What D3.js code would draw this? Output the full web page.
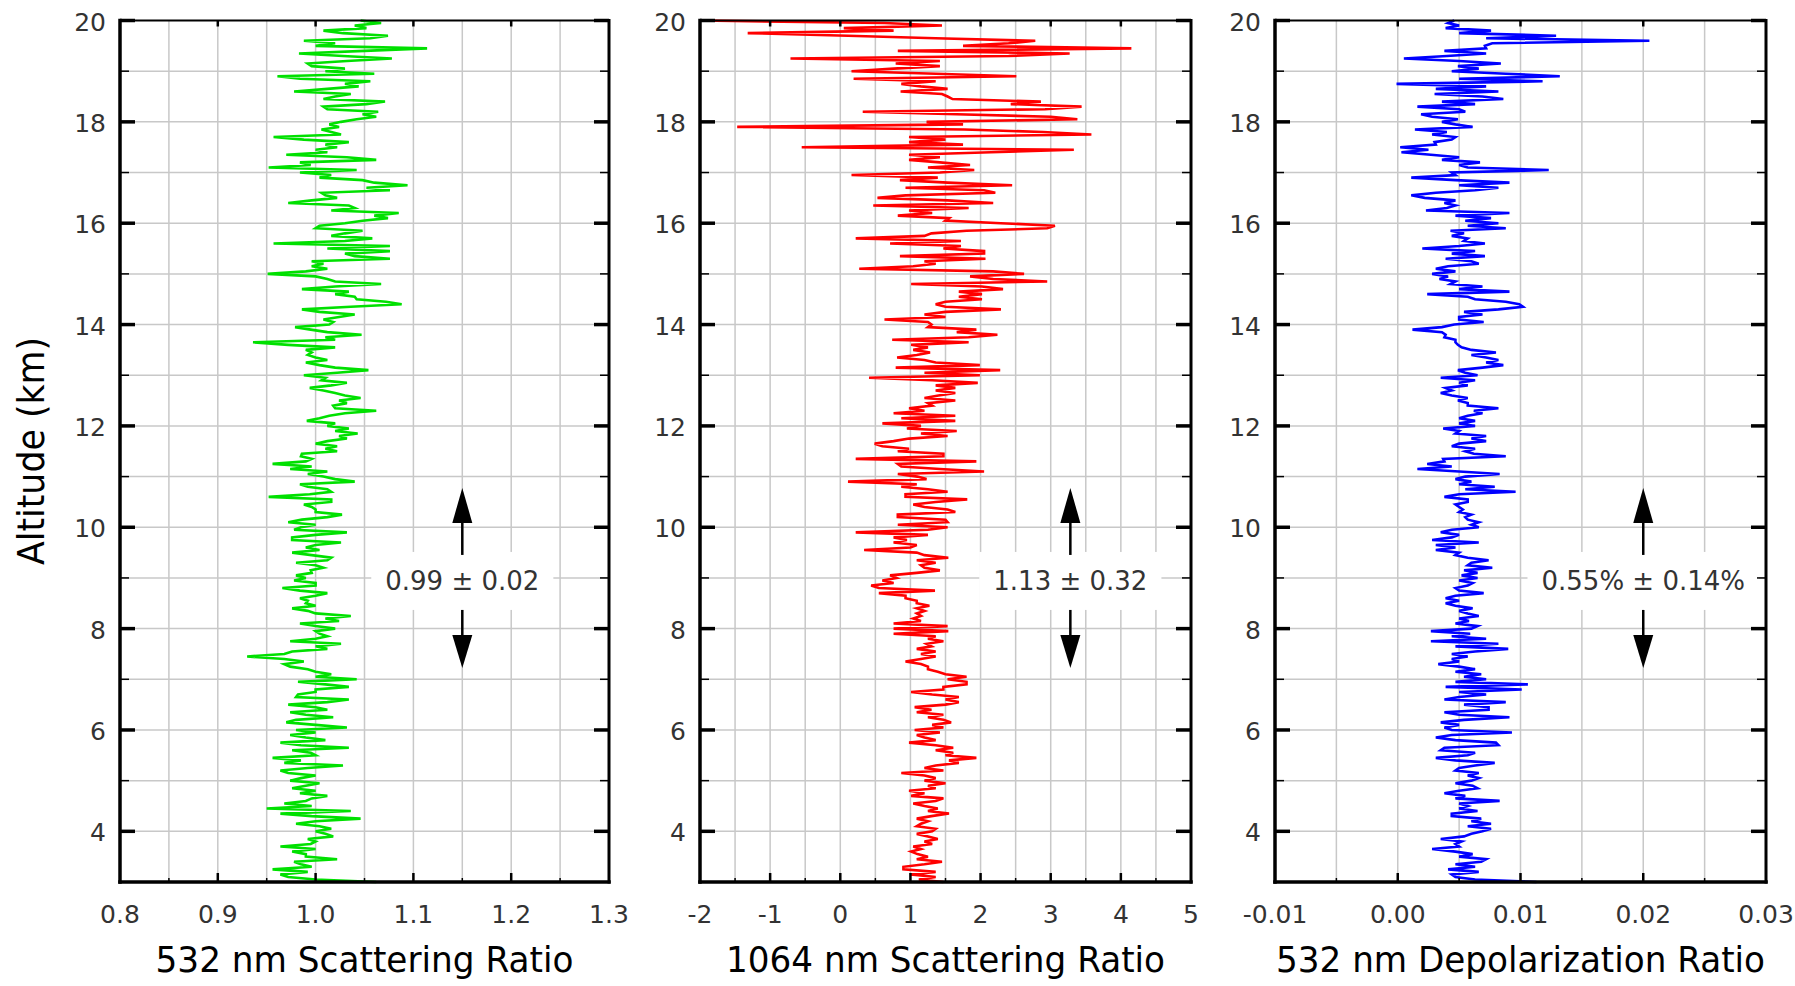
<!DOCTYPE html>
<html>
<head>
<meta charset="utf-8">
<script src="https://cdn.jsdelivr.net/npm/d3@7"></script>
<style>
  html, body { margin: 0; padding: 0; background: #fff; }
  svg { display: block; }
  text { font-family: "DejaVu Sans", Verdana, sans-serif; }
</style>
</head>
<body>
<svg id="chart" width="1795" height="986"></svg>
<script>
// Lidar profiles sampled every 50 m, listed from 20 km down to 3 km.
const altitudeTop = 20;
const altitudeStep = 0.05;

// 532 nm scattering ratio
const sr532 = [
  1.046, 1.067, 1.040, 1.052, 1.008, 1.028, 1.074, 1.056, 0.988, 1.020,
  1.000, 1.114, 1.050, 0.983, 1.028, 1.078, 1.032, 0.992, 0.996, 1.030,
  1.010, 1.060, 0.961, 0.984, 1.056, 1.030, 1.044, 1.012, 0.978, 1.036,
  1.020, 1.008, 1.071, 1.052, 1.008, 1.012, 1.064, 1.048, 1.062, 1.042,
  1.026, 1.014, 1.024, 1.006, 1.016, 1.026, 0.957, 0.988, 1.034, 1.010,
  1.022, 1.000, 1.012, 0.970, 1.032, 1.062, 0.984, 0.995, 0.952, 1.042,
  0.984, 1.016, 1.004, 1.048, 1.060, 1.094, 1.052, 1.076, 1.006, 1.010,
  1.022, 0.996, 0.972, 1.034, 1.040, 1.016, 1.085, 1.060, 1.074, 1.048,
  1.030, 1.004, 1.000, 1.048, 1.030, 1.016, 1.058, 1.030, 0.957, 1.076,
  1.012, 1.076, 1.030, 1.040, 1.076, 0.996, 1.008, 0.996, 1.012, 0.990,
  0.951, 1.000, 1.012, 1.020, 1.067, 1.020, 0.986, 1.034, 1.020, 1.040,
  1.042, 1.072, 1.088, 1.036, 0.986, 1.004, 1.040, 1.024, 1.008, 1.018,
  1.014, 0.979, 0.995, 1.012, 1.047, 1.010, 1.020, 0.936, 0.972, 1.020,
  0.990, 0.996, 0.992, 1.000, 1.012, 0.990, 1.004, 1.020, 1.054, 1.022,
  0.988, 1.010, 1.006, 1.032, 1.016, 0.994, 1.008, 1.020, 1.030, 1.046,
  1.024, 1.032, 1.018, 1.020, 1.062, 1.030, 1.014, 1.004, 0.991, 1.020,
  1.012, 1.034, 1.020, 1.043, 1.024, 1.032, 1.012, 1.000, 1.022, 1.010,
  1.022, 0.986, 0.985, 0.996, 0.990, 0.956, 0.996, 0.974, 1.012, 0.992,
  1.008, 1.020, 1.040, 0.984, 0.992, 1.012, 1.016, 0.994, 0.952, 1.016,
  1.016, 0.988, 0.996, 1.000, 1.000, 1.027, 1.012, 0.986, 0.972, 1.000,
  0.985, 0.978, 1.032, 1.000, 0.976, 0.976, 1.026, 1.000, 0.990, 1.004,
  0.976, 0.996, 1.016, 1.012, 0.980, 1.000, 1.008, 0.995, 0.996, 0.980,
  0.990, 0.978, 1.000, 1.000, 0.966, 0.984, 1.012, 1.000, 0.984, 0.992,
  0.990, 1.000, 0.976, 0.992, 1.000, 1.036, 1.010, 1.024, 0.984, 1.000,
  1.020, 1.000, 1.004, 1.012, 1.000, 0.974, 1.026, 1.000, 1.012, 0.976,
  0.968, 0.930, 0.968, 0.988, 0.968, 0.974, 0.992, 1.000, 1.016, 1.000,
  1.042, 0.982, 1.010, 1.034, 1.000, 1.000, 0.982, 0.980, 1.034, 1.012,
  0.972, 1.000, 1.012, 0.974, 0.990, 1.018, 0.980, 0.970, 1.000, 1.032,
  0.980, 1.000, 0.974, 0.990, 1.010, 0.964, 0.985, 1.034, 0.976, 0.995,
  1.000, 0.956, 0.985, 0.968, 1.028, 0.992, 0.964, 0.972, 1.000, 0.985,
  0.974, 1.004, 0.990, 0.976, 1.000, 0.984, 1.012, 0.996, 0.990, 0.968,
  0.996, 0.950, 1.036, 0.964, 0.996, 1.046, 1.000, 0.980, 1.004, 1.016,
  1.000, 1.010, 1.018, 0.992, 1.000, 0.995, 0.964, 1.000, 0.976, 0.990,
  0.990, 1.022, 0.978, 0.985, 0.996, 0.956, 0.992, 0.964, 0.972, 1.000,
  1.062
];

// 1064 nm scattering ratio
const sr1064 = [
  -2.00, 0.63, 1.45, 0.05, 0.76, -1.32, 0.11, 1.36, 2.78, 2.40,
  1.75, 4.15, 0.82, 3.27, 2.40, -0.71, 1.42, 0.79, 1.42, 0.76,
  0.16, 1.36, 2.51, 0.19, 1.36, 0.87, 1.15, 1.53, 0.86, 1.45,
  1.53, 1.60, 2.86, 2.43, 3.44, 2.92, 0.32, 1.66, 3.00, 3.38,
  1.23, 1.75, -1.47, 1.77, 2.89, 3.58, 0.98, 1.50, 0.98, 1.75,
  -0.55, 3.33, 2.15, 0.98, 1.42, 0.98, 1.42, 1.85, 1.25, 1.91,
  1.42, 0.16, 1.39, 0.85, 1.53, 2.45, 0.93, 2.05, 2.21, 0.93,
  0.53, 1.53, 2.18, 0.47, 1.83, 0.98, 1.31, 0.82, 1.55, 1.50,
  2.29, 3.06, 2.95, 1.80, 1.30, 1.20, 0.22, 1.72, 0.71, 1.72,
  1.47, 2.05, 2.05, 0.85, 2.07, 1.20, 1.36, 1.04, 0.27, 2.18,
  2.62, 1.85, 2.18, 2.95, 1.01, 2.02, 2.32, 1.69, 2.02, 1.69,
  2.02, 1.50, 1.36, 1.50, 2.29, 1.50, 1.20, 1.50, 0.63, 1.25,
  1.30, 1.25, 1.94, 1.66, 2.24, 1.83, 0.74, 1.83, 1.01, 1.25,
  1.04, 1.28, 1.09, 0.81, 1.20, 1.36, 1.99, 0.79, 2.28, 1.20,
  1.99, 0.41, 1.31, 1.96, 1.36, 1.64, 1.36, 1.64, 1.40, 1.20,
  1.64, 1.25, 1.31, 0.98, 1.20, 0.76, 1.64, 0.87, 1.64, 0.60,
  1.15, 0.95, 1.66, 1.15, 1.53, 0.98, 0.76, 0.49, 0.60, 0.98,
  0.82, 1.47, 1.47, 0.22, 1.94, 0.82, 0.87, 1.42, 2.05, 0.82,
  1.10, 1.23, 0.11, 1.09, 0.87, 1.25, 1.53, 0.93, 0.93, 1.81,
  1.36, 1.04, 1.20, 1.53, 1.64, 0.82, 0.82, 1.50, 1.53, 0.82,
  1.53, 1.25, 0.22, 1.25, 0.76, 0.95, 0.76, 1.09, 1.00, 0.34,
  1.09, 1.20, 1.54, 1.09, 1.36, 1.15, 1.20, 1.42, 1.09, 0.71,
  0.80, 0.60, 0.76, 0.44, 0.55, 1.35, 0.55, 0.93, 0.93, 1.09,
  1.09, 1.27, 1.09, 1.20, 1.09, 1.15, 1.04, 1.15, 0.76, 1.53,
  0.76, 1.54, 0.76, 1.36, 1.25, 1.47, 1.23, 1.30, 1.09, 1.36,
  1.15, 1.36, 1.15, 0.93, 1.15, 1.25, 1.25, 1.39, 1.50, 1.80,
  1.53, 1.80, 1.80, 1.47, 1.47, 1.01, 1.31, 1.69, 1.50, 1.69,
  1.50, 1.06, 1.30, 1.09, 1.47, 1.25, 1.47, 1.58, 1.31, 1.47,
  1.06, 1.42, 1.09, 1.20, 1.36, 0.98, 1.36, 1.61, 1.36, 1.61,
  1.50, 1.94, 1.55, 1.69, 1.36, 1.20, 1.47, 0.87, 1.20, 1.36,
  1.20, 1.50, 1.25, 1.36, 0.98, 1.20, 1.01, 1.47, 1.36, 1.04,
  1.20, 1.39, 1.25, 1.55, 1.30, 1.09, 1.25, 1.15, 1.09, 1.36,
  1.31, 1.09, 1.25, 1.39, 1.20, 1.31, 1.04, 1.15, 1.01, 1.10,
  1.25, 1.09, 1.45, 1.20, 0.90, 0.90, 1.36, 1.00, 1.36, 1.12,
  1.47
];

// 532 nm depolarization ratio
const dr532 = [
  0.0046, 0.0041, 0.0050, 0.0039, 0.0076, 0.0050, 0.0129, 0.0072, 0.0205, 0.0077,
  0.0071, 0.0072, 0.0038, 0.0072, 0.0040, 0.0005, 0.0050, 0.0084, 0.0049, 0.0066,
  0.0044, 0.0088, 0.0132, 0.0050, 0.0118, -0.0001, 0.0072, 0.0031, 0.0082, 0.0030,
  0.0069, 0.0086, 0.0036, 0.0063, 0.0016, 0.0050, 0.0055, 0.0019, 0.0028, 0.0049,
  0.0036, 0.0047, 0.0061, 0.0014, 0.0040, 0.0028, 0.0047, 0.0044, 0.0030, 0.0031,
  0.0002, 0.0025, 0.0003, 0.0027, 0.0050, 0.0036, 0.0067, 0.0050, 0.0057, 0.0123,
  0.0044, 0.0047, 0.0011, 0.0047, 0.0091, 0.0050, 0.0082, 0.0063, 0.0031, 0.0011,
  0.0022, 0.0047, 0.0038, 0.0047, 0.0040, 0.0023, 0.0091, 0.0047, 0.0076, 0.0055,
  0.0082, 0.0057, 0.0088, 0.0043, 0.0054, 0.0044, 0.0057, 0.0054, 0.0071, 0.0050,
  0.0020, 0.0063, 0.0044, 0.0071, 0.0039, 0.0060, 0.0066, 0.0041, 0.0031, 0.0047,
  0.0028, 0.0041, 0.0034, 0.0047, 0.0043, 0.0069, 0.0050, 0.0091, 0.0024, 0.0057,
  0.0063, 0.0088, 0.0099, 0.0102, 0.0082, 0.0054, 0.0069, 0.0050, 0.0050, 0.0070,
  0.0046, 0.0036, 0.0012, 0.0036, 0.0039, 0.0038, 0.0047, 0.0047, 0.0049, 0.0052,
  0.0060, 0.0080, 0.0060, 0.0072, 0.0082, 0.0072, 0.0086, 0.0069, 0.0049, 0.0055,
  0.0065, 0.0035, 0.0063, 0.0050, 0.0057, 0.0039, 0.0044, 0.0035, 0.0044, 0.0057,
  0.0049, 0.0057, 0.0057, 0.0082, 0.0062, 0.0069, 0.0057, 0.0050, 0.0063, 0.0050,
  0.0063, 0.0037, 0.0050, 0.0047, 0.0072, 0.0060, 0.0072, 0.0050, 0.0044, 0.0063,
  0.0055, 0.0062, 0.0088, 0.0037, 0.0038, 0.0024, 0.0044, 0.0016, 0.0050, 0.0083,
  0.0055, 0.0047, 0.0060, 0.0050, 0.0079, 0.0055, 0.0096, 0.0050, 0.0038, 0.0057,
  0.0057, 0.0047, 0.0050, 0.0053, 0.0050, 0.0060, 0.0055, 0.0057, 0.0066, 0.0060,
  0.0066, 0.0044, 0.0035, 0.0050, 0.0044, 0.0028, 0.0066, 0.0031, 0.0047, 0.0031,
  0.0050, 0.0047, 0.0057, 0.0074, 0.0060, 0.0057, 0.0077, 0.0054, 0.0065, 0.0052,
  0.0065, 0.0050, 0.0061, 0.0057, 0.0047, 0.0050, 0.0070, 0.0047, 0.0039, 0.0050,
  0.0039, 0.0047, 0.0061, 0.0050, 0.0057, 0.0066, 0.0050, 0.0058, 0.0047, 0.0065,
  0.0060, 0.0027, 0.0059, 0.0044, 0.0072, 0.0027, 0.0082, 0.0047, 0.0090, 0.0063,
  0.0044, 0.0057, 0.0044, 0.0050, 0.0033, 0.0050, 0.0063, 0.0047, 0.0068, 0.0054,
  0.0072, 0.0047, 0.0106, 0.0039, 0.0101, 0.0050, 0.0072, 0.0050, 0.0038, 0.0088,
  0.0054, 0.0074, 0.0074, 0.0038, 0.0050, 0.0091, 0.0054, 0.0035, 0.0050, 0.0038,
  0.0044, 0.0093, 0.0044, 0.0031, 0.0047, 0.0080, 0.0082, 0.0038, 0.0035, 0.0063,
  0.0057, 0.0031, 0.0047, 0.0079, 0.0063, 0.0050, 0.0047, 0.0066, 0.0057, 0.0066,
  0.0060, 0.0047, 0.0061, 0.0065, 0.0050, 0.0038, 0.0055, 0.0047, 0.0083, 0.0050,
  0.0057, 0.0050, 0.0065, 0.0044, 0.0044, 0.0068, 0.0060, 0.0076, 0.0057, 0.0076,
  0.0069, 0.0060, 0.0054, 0.0035, 0.0052, 0.0047, 0.0050, 0.0028, 0.0047, 0.0061,
  0.0050, 0.0072, 0.0068, 0.0047, 0.0063, 0.0041, 0.0066, 0.0044, 0.0047, 0.0063,
  0.0113
];

// Axis ticks and labels
const altitudeDomain = [3, 20];
const altitudeTicks = [4, 6, 8, 10, 12, 14, 16, 18, 20];
const altitudeMinorTicks = [5, 7, 9, 11, 13, 15, 17, 19];
const altitudeLabels = ["4", "6", "8", "10", "12", "14", "16", "18", "20"];

const sr532Ticks = [0.8, 0.9, 1.0, 1.1, 1.2, 1.3];
const sr532Labels = ["0.8", "0.9", "1.0", "1.1", "1.2", "1.3"];
const sr1064Ticks = [-2, -1, 0, 1, 2, 3, 4, 5];
const sr1064Labels = ["-2", "-1", "0", "1", "2", "3", "4", "5"];
const dr532Ticks = [-0.01, 0, 0.01, 0.02, 0.03];
const dr532Labels = ["-0.01", "0.00", "0.01", "0.02", "0.03"];

const axisTitles = ["532 nm Scattering Ratio", "1064 nm Scattering Ratio", "532 nm Depolarization Ratio"];
const yAxisTitle = "Altitude (km)";

// Layer means and standard deviations
const statLabels = ["0.99 \u00b1 0.02", "1.13 \u00b1 0.32", "0.55% \u00b1 0.14%"];
const statPositions = [1.15, 3.28, 0.02];

// ---------------------------------------------------------------------------
const W = 1795, H = 986;
const svg = d3.select("#chart");
svg.append("rect").attr("width", W).attr("height", H).attr("fill", "#fff");

const plotTop = 20.5, plotBottom = 882;
const y = d3.scaleLinear().domain(altitudeDomain).range([plotBottom, plotTop]);
const altitudes = sr532.map((_, i) => altitudeTop - i * altitudeStep);

const panels = [
  { values: sr532, ticks: sr532Ticks, labels: sr532Labels, color: "#00e000",
    x0: 120, x1: 609, title: axisTitles[0], titleLength: 418, stat: statLabels[0], statX: statPositions[0] },
  { values: sr1064, ticks: sr1064Ticks, labels: sr1064Labels, color: "#ff0000",
    x0: 700, x1: 1191, title: axisTitles[1], titleLength: 439, stat: statLabels[1], statX: statPositions[1] },
  { values: dr532, ticks: dr532Ticks, labels: dr532Labels, color: "#0000ff",
    x0: 1275, x1: 1766, title: axisTitles[2], titleLength: 489, stat: statLabels[2], statX: statPositions[2] }
];

const gridColor = "#c8c8c8";
const labelColor = "#333";
const defs = svg.append("defs");

panels.forEach((p, k) => {
  const domain = [p.ticks[0], p.ticks[p.ticks.length - 1]];
  const x = d3.scaleLinear().domain(domain).range([p.x0, p.x1]);
  const g = svg.append("g").attr("class", "panel");

  // minor positions halfway between labelled ticks
  const minorX = d3.pairs(p.ticks).map(([a, b]) => (a + b) / 2);
  const gridX = p.ticks.concat(minorX).filter(v => v > domain[0] && v < domain[1]);
  const gridY = d3.range(altitudeDomain[0] + 1, altitudeDomain[1]);

  // grid
  g.append("g").selectAll("line").data(gridX).join("line")
    .attr("x1", d => x(d)).attr("x2", d => x(d))
    .attr("y1", plotTop).attr("y2", plotBottom)
    .attr("stroke", gridColor).attr("stroke-width", 1.5);
  g.append("g").selectAll("line").data(gridY).join("line")
    .attr("x1", p.x0).attr("x2", p.x1)
    .attr("y1", d => y(d)).attr("y2", d => y(d))
    .attr("stroke", gridColor).attr("stroke-width", 1.5);

  // statistics annotation: label box with double arrow
  const cx = x(p.statX);
  const cy = y(9);
  const ann = g.append("g");
  const box = ann.append("rect").attr("fill", "#fff");
  const label = ann.append("text")
    .attr("x", cx).attr("y", cy + 12.5)
    .attr("text-anchor", "middle")
    .attr("font-size", 26).attr("fill", labelColor)
    .text(p.stat);
  const tw = label.node().getComputedTextLength();
  box.attr("x", cx - tw / 2 - 14).attr("width", tw + 28)
    .attr("y", cy - 26).attr("height", 58);
  ann.append("line").attr("x1", cx).attr("x2", cx)
    .attr("y1", cy - 23).attr("y2", cy - 56)
    .attr("stroke", "#000").attr("stroke-width", 2.5);
  ann.append("polygon")
    .attr("points", [[cx, cy - 90], [cx - 10, cy - 55], [cx + 10, cy - 55]].map(q => q.join(",")).join(" "))
    .attr("fill", "#000");
  ann.append("line").attr("x1", cx).attr("x2", cx)
    .attr("y1", cy + 32).attr("y2", cy + 58)
    .attr("stroke", "#000").attr("stroke-width", 2.5);
  ann.append("polygon")
    .attr("points", [[cx, cy + 90], [cx - 10, cy + 57], [cx + 10, cy + 57]].map(q => q.join(",")).join(" "))
    .attr("fill", "#000");

  // profile
  const clipId = "clip" + k;
  defs.append("clipPath").attr("id", clipId).append("rect")
    .attr("x", p.x0).attr("y", plotTop - 2)
    .attr("width", p.x1 - p.x0).attr("height", plotBottom - plotTop + 4);
  const line = d3.line()
    .x(d => x(d[0]))
    .y(d => y(d[1]));
  g.append("path")
    .datum(p.values.map((v, i) => [v, altitudes[i]]))
    .attr("clip-path", `url(#${clipId})`)
    .attr("d", line)
    .attr("fill", "none")
    .attr("stroke", p.color)
    .attr("stroke-width", 2.6)
    .attr("stroke-linejoin", "miter");

  // frame
  const frame = g.append("g").attr("stroke", "#000").attr("stroke-linecap", "square");
  frame.append("line").attr("x1", p.x0).attr("x2", p.x1).attr("y1", plotTop).attr("y2", plotTop).attr("stroke-width", 2);
  frame.append("line").attr("x1", p.x0).attr("x2", p.x1).attr("y1", plotBottom).attr("y2", plotBottom).attr("stroke-width", 3.5);
  frame.append("line").attr("x1", p.x0).attr("x2", p.x0).attr("y1", plotTop).attr("y2", plotBottom).attr("stroke-width", 3.5);
  frame.append("line").attr("x1", p.x1).attr("x2", p.x1).attr("y1", plotTop).attr("y2", plotBottom).attr("stroke-width", 3);

  // altitude ticks on both sides, pointing inward
  const ticks = g.append("g").attr("stroke", "#000");
  altitudeTicks.forEach(v => {
    ticks.append("line").attr("x1", p.x0).attr("x2", p.x0 + 15).attr("y1", y(v)).attr("y2", y(v)).attr("stroke-width", 3.5);
    ticks.append("line").attr("x1", p.x1 - 15).attr("x2", p.x1).attr("y1", y(v)).attr("y2", y(v)).attr("stroke-width", 3.5);
  });
  altitudeMinorTicks.forEach(v => {
    ticks.append("line").attr("x1", p.x0).attr("x2", p.x0 + 9).attr("y1", y(v)).attr("y2", y(v)).attr("stroke-width", 1.5);
    ticks.append("line").attr("x1", p.x1 - 9).attr("x2", p.x1).attr("y1", y(v)).attr("y2", y(v)).attr("stroke-width", 1.5);
  });
  p.ticks.filter(v => v > domain[0] && v < domain[1]).forEach(v => {
    ticks.append("line").attr("x1", x(v)).attr("x2", x(v)).attr("y1", plotBottom).attr("y2", plotBottom - 9).attr("stroke-width", 2.5);
    ticks.append("line").attr("x1", x(v)).attr("x2", x(v)).attr("y1", plotTop).attr("y2", plotTop + 6).attr("stroke-width", 2.5);
  });
  minorX.forEach(v => {
    ticks.append("line").attr("x1", x(v)).attr("x2", x(v)).attr("y1", plotBottom).attr("y2", plotBottom - 4).attr("stroke-width", 1.5);
  });

  // tick labels
  g.append("g").selectAll("text").data(altitudeTicks).join("text")
    .attr("x", p.x0 - 14).attr("y", d => y(d) + 10)
    .attr("text-anchor", "end").attr("font-size", 25).attr("fill", labelColor)
    .text((d, i) => altitudeLabels[i]);
  g.append("g").selectAll("text").data(p.ticks).join("text")
    .attr("x", d => x(d)).attr("y", 923)
    .attr("text-anchor", "middle").attr("font-size", 25).attr("fill", labelColor)
    .text((d, i) => p.labels[i]);

  // axis title
  g.append("text")
    .attr("x", (p.x0 + p.x1) / 2).attr("y", 972)
    .attr("text-anchor", "middle").attr("font-size", 36).attr("fill", "#000")
    .attr("textLength", p.titleLength).attr("lengthAdjust", "spacingAndGlyphs")
    .text(p.title);
});

svg.append("text")
  .attr("transform", "translate(43.5,451) rotate(-90)")
  .attr("text-anchor", "middle").attr("font-size", 37.5).attr("fill", "#000")
  .attr("textLength", 228).attr("lengthAdjust", "spacingAndGlyphs")
  .text(yAxisTitle);
</script>
</body>
</html>
